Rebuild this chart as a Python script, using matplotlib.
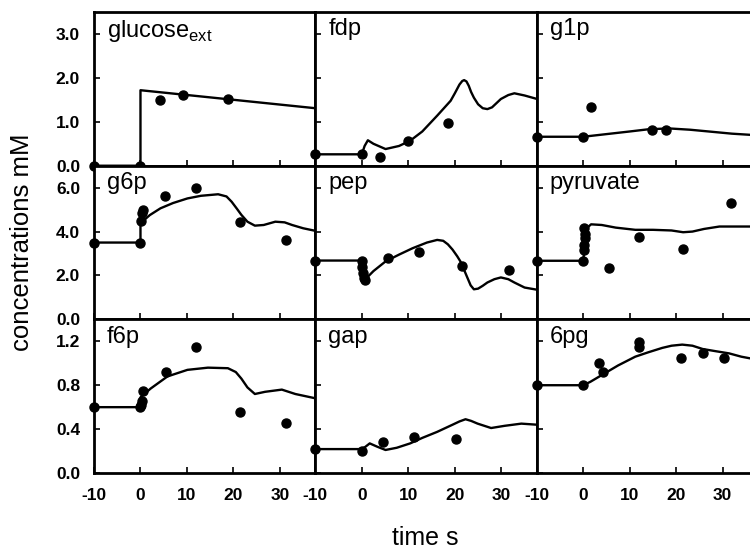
import matplotlib.pyplot as plt

plt.rcParams['font.family'] = ['Liberation Sans', 'DejaVu Sans']

# panel names, row by row
names = ['glucose$_{\\mathregular{ext}}$', 'fdp', 'g1p',
         'g6p', 'pep', 'pyruvate',
         'f6p', 'gap', '6pg']

# model curves (time s, mM)
glc_t = [-10, 0, 0, 37.6]
glc_c = [0, 0, 1.72, 1.31]
fdp_t = [-10, 0, 0.6, 1.3, 2.5, 5.1, 8, 10.4, 13, 16.2, 19.1, 20, 21, 21.6, 22, 22.5, 23, 23.5, 24.1, 25, 26, 27,
         28, 29, 29.9, 31.5, 32.8, 35, 37.7]
fdp_c = [0.26, 0.26, 0.45, 0.58, 0.5, 0.38, 0.45, 0.57, 0.78, 1.14, 1.48, 1.65, 1.85, 1.93, 1.95, 1.92, 1.82, 1.68,
         1.55, 1.4, 1.31, 1.29, 1.33, 1.43, 1.52, 1.61, 1.65, 1.6, 1.52]
g1p_t = [-10, 0, 5, 10, 14, 18.4, 23, 28, 32, 36.5]
g1p_c = [0.66, 0.66, 0.72, 0.78, 0.83, 0.85, 0.82, 0.77, 0.73, 0.70]
g6p_t = [-10, 0, 0, 2, 4.3, 7, 10.1, 13, 16.7, 18.5, 19.6, 20.7, 21.7, 23, 24.6, 26.5, 29, 31, 32.6, 35, 37.7]
g6p_c = [3.5, 3.5, 4.38, 4.75, 5.06, 5.3, 5.51, 5.63, 5.7, 5.6, 5.36, 5.05, 4.76, 4.45, 4.27, 4.3, 4.45, 4.42,
         4.3, 4.15, 4.03]
pep_t = [-10, 0, 0.3, 1, 2.5, 5.1, 8, 10.9, 14, 16.2, 17.5, 18.5, 19.5, 20.5, 21.2, 22, 22.8, 23.4, 24.1, 25,
         26, 27, 28.5, 29.9, 31.5, 32.8, 35, 37.7]
pep_c = [2.68, 2.68, 2.2, 1.88, 2.2, 2.64, 2.95, 3.24, 3.5, 3.62, 3.58, 3.42, 3.18, 2.88, 2.64, 2.25, 1.85, 1.55,
         1.37, 1.4, 1.53, 1.68, 1.83, 1.91, 1.83, 1.68, 1.45, 1.35]
pyr_t = [-10, 0, 0.5, 1, 1.7, 4, 7, 11.2, 15, 19, 21.5, 23.5, 26, 29.3, 33, 37.7]
pyr_c = [2.67, 2.67, 3.6, 4.2, 4.33, 4.3, 4.18, 4.08, 4.08, 4.05, 3.97, 4.0, 4.12, 4.23, 4.23, 4.23]
f6p_t = [-10, 0, 0, 2.2, 5.8, 10.1, 14.5, 18.8, 20.5, 21.7, 23, 24.6, 26.8, 30.4, 33.3, 35.5, 37.7]
f6p_c = [0.6, 0.6, 0.69, 0.77, 0.88, 0.94, 0.96, 0.955, 0.92, 0.86, 0.78, 0.72, 0.74, 0.76, 0.72, 0.70, 0.68]
gap_t = [-10, 0, 0.8, 1.7, 3.3, 5.1, 7.5, 10.4, 13, 16.2, 19.5, 21, 22.3, 23.5, 24.9, 27.8, 30.7, 34.3, 37.7]
gap_c = [0.218, 0.218, 0.24, 0.27, 0.24, 0.21, 0.23, 0.27, 0.32, 0.375, 0.44, 0.47, 0.49, 0.475, 0.45, 0.41, 0.43,
         0.45, 0.44]
pg_t = [-10, 0, 1.5, 3.9, 7.5, 11.2, 14, 17, 19, 21.3, 23.5, 25.7, 28.5, 31.4, 34, 36.5]
pg_c = [0.80, 0.80, 0.83, 0.89, 0.98, 1.06, 1.10, 1.14, 1.16, 1.17, 1.16, 1.13, 1.11, 1.09, 1.06, 1.04]

# measured points
glc_pt = [-10, 0, 4.3, 9.1, 18.9]
glc_pc = [0, 0, 1.50, 1.61, 1.53]
fdp_pt = [-10, 0, 4.0, 10.0, 18.6]
fdp_pc = [0.26, 0.26, 0.19, 0.57, 0.98]
g1p_pt = [-10, 0, 1.6, 14.8, 17.8]
g1p_pc = [0.66, 0.66, 1.34, 0.82, 0.82]
g6p_pt = [-10, 0, 0.2, 0.4, 0.6, 5.3, 11.9, 21.4, 31.4]
g6p_pc = [3.5, 3.5, 4.5, 4.85, 5.0, 5.62, 5.97, 4.45, 3.62]
pep_pt = [-10, 0, 0.1, 0.3, 0.5, 0.6, 5.7, 12.2, 21.6, 31.7]
pep_pc = [2.68, 2.68, 2.4, 2.1, 1.9, 1.8, 2.79, 3.09, 2.45, 2.24]
pyr_pt = [-10, 0, 0.1, 0.2, 0.3, 0.4, 0.2, 5.5, 12.0, 21.4, 31.7]
pyr_pc = [2.67, 2.67, 3.17, 3.4, 3.7, 3.9, 4.15, 2.36, 3.73, 3.2, 5.32]
f6p_pt = [-10, 0, 0.1, 0.3, 0.5, 5.4, 12.0, 21.4, 31.4]
f6p_pc = [0.6, 0.6, 0.62, 0.66, 0.75, 0.92, 1.15, 0.56, 0.46]
gap_pt = [-10, 0, 4.6, 11.3, 20.3]
gap_pc = [0.22, 0.205, 0.285, 0.325, 0.31]
pg_pt = [-10, 0, 3.5, 4.3, 12.0, 12.0, 21.0, 25.7, 30.2]
pg_pc = [0.80, 0.80, 1.0, 0.92, 1.19, 1.15, 1.05, 1.09, 1.05]

curves = [(glc_t, glc_c), (fdp_t, fdp_c), (g1p_t, g1p_c),
          (g6p_t, g6p_c), (pep_t, pep_c), (pyr_t, pyr_c),
          (f6p_t, f6p_c), (gap_t, gap_c), (pg_t, pg_c)]
points = [(glc_pt, glc_pc), (fdp_pt, fdp_pc), (g1p_pt, g1p_pc),
          (g6p_pt, g6p_pc), (pep_pt, pep_pc), (pyr_pt, pyr_pc),
          (f6p_pt, f6p_pc), (gap_pt, gap_pc), (pg_pt, pg_pc)]

row_ylim = [3.5, 7.0, 1.4]
row_ticks = [[0, 1, 2, 3], [0, 2, 4, 6], [0, 0.4, 0.8, 1.2]]
x_ticks = [-10, 0, 10, 20, 30]

fig = plt.figure(figsize=(7.5, 5.49), dpi=100)
gs = fig.add_gridspec(3, 3, left=0.1253, right=1.0107, top=0.978, bottom=0.1384,
                      wspace=0, hspace=0)

for i in range(9):
    r, c = divmod(i, 3)
    ax = fig.add_subplot(gs[r, c])
    t, v = curves[i]
    ax.plot(t, v, color='black', lw=1.7, solid_joinstyle='round')
    pt, pv = points[i]
    ax.plot(pt, pv, 'o', color='black', ms=6.5, clip_on=False, zorder=5)
    ax.set_xlim(-10, 37.6)
    ax.set_ylim(0, row_ylim[r])
    ax.set_xticks(x_ticks)
    ax.set_yticks(row_ticks[r])
    ax.tick_params(direction='in', length=4, width=1.2, labelsize=12.5)
    ax.tick_params(axis='x', pad=11)
    ax.tick_params(axis='y', pad=10)
    for s in ax.spines.values():
        s.set_linewidth(2)
    if c == 0:
        ax.set_yticklabels(['%.1f' % y for y in row_ticks[r]], fontweight='bold')
    else:
        ax.set_yticklabels([])
    if r == 2:
        ax.set_xticklabels([str(x) for x in x_ticks], fontweight='bold')
    else:
        ax.set_xticklabels([])
    ax.text(0.058, 0.96, names[i], transform=ax.transAxes, ha='left', va='top',
            fontsize=17)

fig.text(0.567, 0.008, 'time s', ha='center', va='baseline', fontsize=18)
fig.text(0.03, 0.559, 'concentrations mM', ha='center', va='center', rotation=90,
         fontsize=18.5)

fig.savefig('out.png', dpi=100)
